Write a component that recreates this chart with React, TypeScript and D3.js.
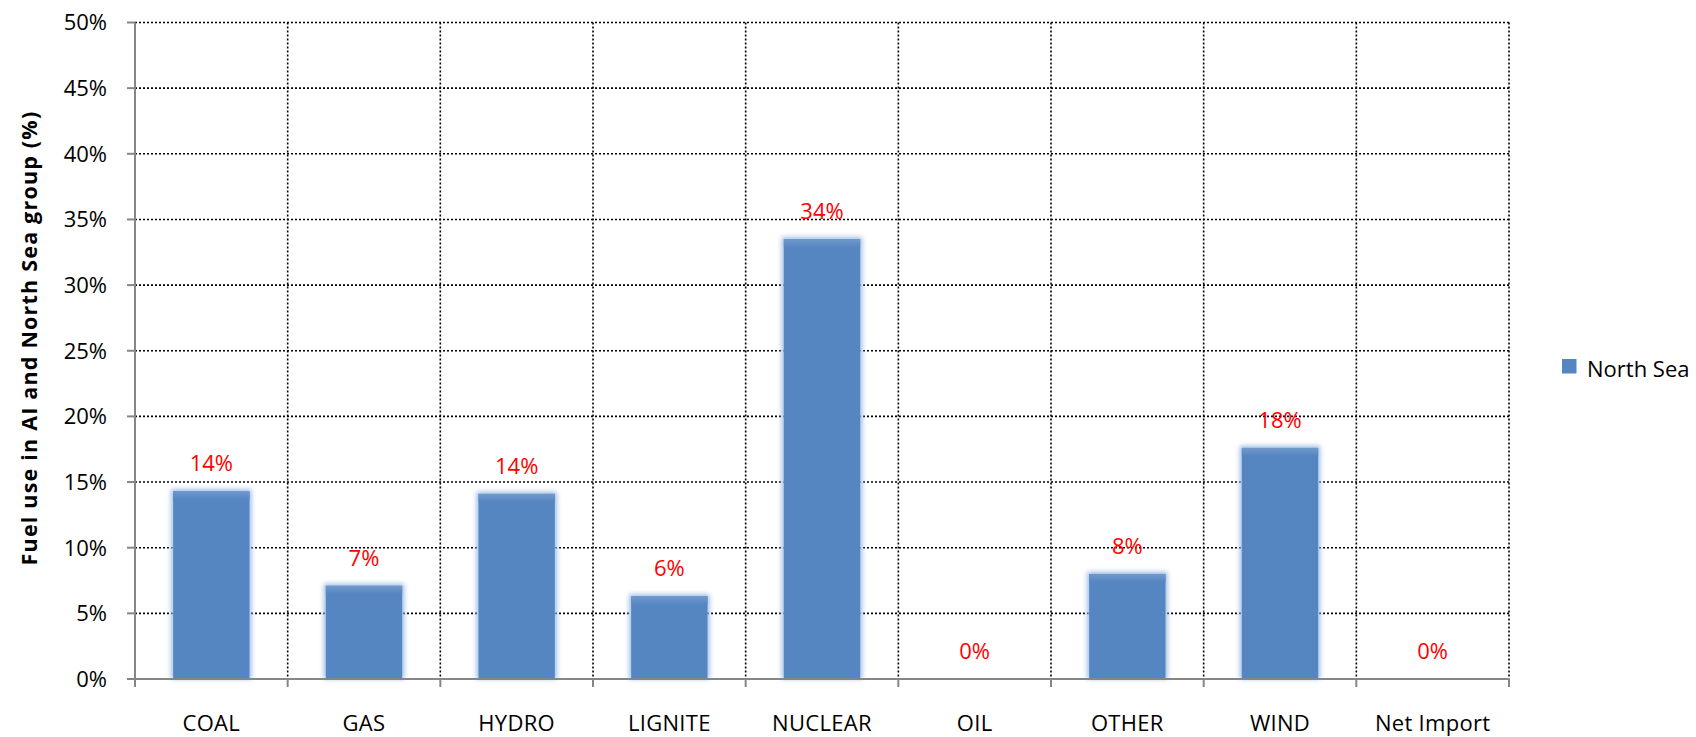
import React from "react";
import * as d3 from "d3";

// Fuel mix shares (%) for the North Sea group
const categories = ["COAL", "GAS", "HYDRO", "LIGNITE", "NUCLEAR", "OIL", "OTHER", "WIND", "Net Import"];
const northSea = [14.3, 7.1, 14.1, 6.3, 33.5, 0, 8.0, 17.6, 0];
const yTicks = [0, 5, 10, 15, 20, 25, 30, 35, 40, 45, 50];
const seriesName = "North Sea";
const yTitle = "Fuel use in AI and North Sea group (%)";

const W = 1696;
const H = 737;
const plot = { left: 135, right: 1509, top: 22.5, bottom: 679 };
const FONT = "'Open Sans', 'Noto Sans', sans-serif";
const BAR = "#5686c1";

export default function App() {
  const x = d3
    .scaleBand<string>()
    .domain(categories)
    .range([plot.left, plot.right])
    .paddingInner(0.5)
    .paddingOuter(0.25);
  const y = d3.scaleLinear().domain([0, 50]).range([plot.bottom, plot.top]);
  const step = x.step();
  const boundaries = d3.range(categories.length + 1).map((i) => plot.left + i * step);
  const fmt = (v: number) => `${Math.round(v)}%`;

  return (
    <svg
      width={W}
      height={H}
      viewBox={`0 0 ${W} ${H}`}
      style={{ position: "absolute", left: 0, top: 0, background: "#fff" }}
    >
      <defs>
        <filter id="glow" x="-30%" y="-30%" width="160%" height="160%">
          <feGaussianBlur stdDeviation="2.5" />
        </filter>
        <linearGradient id="barTop" x1="0" y1="0" x2="0" y2="1">
          <stop offset="0" stopColor="#7199cc" />
          <stop offset="1" stopColor={BAR} />
        </linearGradient>
      </defs>

      {/* horizontal gridlines */}
      {yTicks
        .filter((t) => t > 0)
        .map((t) => (
          <line
            key={`h${t}`}
            x1={plot.left}
            x2={plot.right}
            y1={y(t)}
            y2={y(t)}
            stroke="#000"
            strokeWidth={1.6}
            strokeDasharray="2,2"
          />
        ))}
      {/* vertical gridlines at category boundaries */}
      {boundaries.slice(1).map((bx, i) => (
        <line
          key={`v${i}`}
          x1={bx}
          x2={bx}
          y1={plot.top}
          y2={plot.bottom}
          stroke="#000"
          strokeWidth={1.6}
          strokeDasharray="2,2"
        />
      ))}

      {/* bars */}
      {categories.map((c, i) => {
        const v = northSea[i];
        if (v <= 0) return null;
        const bx = x(c)!;
        const bw = x.bandwidth();
        const top = y(v);
        const h = y(0) - top;
        return (
          <g key={c}>
            <rect x={bx - 2} y={top - 2} width={bw + 4} height={h + 2} fill="#9fbde4" filter="url(#glow)" />
            <rect x={bx} y={top} width={bw} height={h} fill={BAR} />
            <rect x={bx} y={top} width={bw} height={Math.min(8, h)} fill="url(#barTop)" />
          </g>
        );
      })}

      {/* axes */}
      <line x1={plot.left} x2={plot.left} y1={plot.top} y2={plot.bottom + 1} stroke="#868686" strokeWidth={2} />
      {yTicks.map((t) => (
        <line key={`yt${t}`} x1={plot.left - 8} x2={plot.left} y1={y(t)} y2={y(t)} stroke="#868686" strokeWidth={2} />
      ))}
      <line x1={plot.left} x2={plot.right} y1={plot.bottom} y2={plot.bottom} stroke="#868686" strokeWidth={2} />
      {boundaries.map((bx, i) => (
        <line key={`xt${i}`} x1={bx} x2={bx} y1={plot.bottom} y2={plot.bottom + 8} stroke="#868686" strokeWidth={2} />
      ))}

      {/* y tick labels */}
      {yTicks.map((t) => (
        <text
          key={`yl${t}`}
          x={107}
          y={y(t)}
          dy="0.36em"
          textAnchor="end"
          fontFamily={FONT}
          fontSize={22}
          fill="#000"
        >
          {`${t}%`}
        </text>
      ))}

      {/* x labels */}
      {categories.map((c) => (
        <text
          key={`xl${c}`}
          x={x(c)! + x.bandwidth() / 2}
          y={730.5}
          textAnchor="middle"
          fontFamily={FONT}
          fontSize={22}
          letterSpacing={0.3}
          fill="#000"
        >
          {c}
        </text>
      ))}

      {/* value labels */}
      {categories.map((c, i) => (
        <text
          key={`vl${c}`}
          x={x(c)! + x.bandwidth() / 2}
          y={y(northSea[i]) - 20}
          textAnchor="middle"
          fontFamily={FONT}
          fontSize={22}
          fill="#ff0000"
        >
          {fmt(northSea[i])}
        </text>
      ))}

      {/* y axis title */}
      <text
        transform={`translate(37, 338) rotate(-90)`}
        textAnchor="middle"
        fontFamily={FONT}
        fontSize={21.5}
        letterSpacing={1.2}
        fontWeight="bold"
        fill="#000"
      >
        {yTitle}
      </text>

      {/* legend */}
      <rect x={1562} y={359} width={14.5} height={14.5} fill={BAR} />
      <text x={1587} y={376.5} fontFamily={FONT} fontSize={22} fill="#000">
        {seriesName}
      </text>
    </svg>
  );
}
